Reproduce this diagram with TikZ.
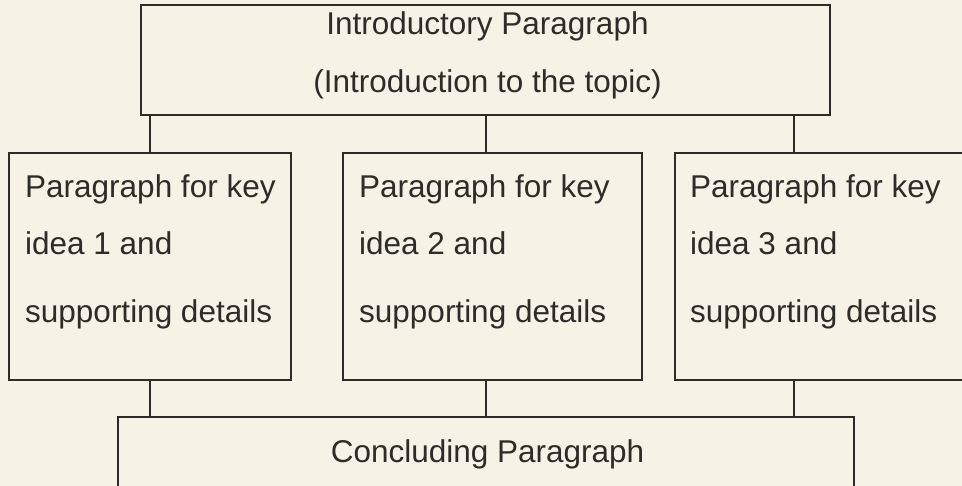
\documentclass[tikz,border=0pt]{standalone}
\usepackage{fontspec}
\setmainfont{Liberation Sans}
\definecolor{paper}{HTML}{F6F2E6}
\definecolor{ink}{HTML}{2E2C28}
\begin{document}
\begin{tikzpicture}[x=1pt,y=-1pt,
  box/.style={draw=ink,line width=1.3pt,inner sep=0pt,rectangle},
  txt/.style={text=ink,inner sep=0pt,font=\fontsize{31.5}{36}\selectfont},
  link/.style={draw=ink,line width=1.3pt}]
\fill[paper] (0,0) rectangle (962,486);
\useasboundingbox (0,0) rectangle (962,486);
% boxes
\node[box,minimum width=689pt,minimum height=110pt] (top) at (485.5,60) {};
\node[box,minimum width=282pt,minimum height=227pt] (b1) at (150,266.5) {};
\node[box,minimum width=299pt,minimum height=227pt] (b2) at (492.5,266.5) {};
\node[box,minimum width=291pt,minimum height=227pt] (b3) at (820.5,266.5) {};
\node[box,minimum width=736pt,minimum height=76pt] (bot) at (486,455) {};
% texts
\node[txt,anchor=base] (t1) at (487.5,35) {Introductory Paragraph};
\node[txt,anchor=base] (t2) at (487.5,93) {(Introduction to the topic)};
\node[txt,anchor=base west] (p1a) at (25,198) {Paragraph for key};
\node[txt,anchor=base west] (p1b) at (25,255) {idea 1 and};
\node[txt,anchor=base west] (p1c) at (25,323) {supporting details};
\node[txt,anchor=base west] (p2a) at (359,198) {Paragraph for key};
\node[txt,anchor=base west] (p2b) at (359,255) {idea 2 and};
\node[txt,anchor=base west] (p2c) at (359,323) {supporting details};
\node[txt,anchor=base west] (p3a) at (690,198) {Paragraph for key};
\node[txt,anchor=base west] (p3b) at (690,255) {idea 3 and};
\node[txt,anchor=base west] (p3c) at (690,323) {supporting details};
\node[txt,anchor=base] (tc) at (487.5,462) {Concluding Paragraph};
% connector columns
\coordinate (c1) at (150,0);
\coordinate (c2) at (486,0);
\coordinate (c3) at (794,0);
\draw[link] (top.south -| c1) -- (b1.north -| c1);
\draw[link] (top.south -| c2) -- (b2.north -| c2);
\draw[link] (top.south -| c3) -- (b3.north -| c3);
\draw[link] (b1.south -| c1) -- (bot.north -| c1);
\draw[link] (b2.south -| c2) -- (bot.north -| c2);
\draw[link] (b3.south -| c3) -- (bot.north -| c3);
\end{tikzpicture}
\end{document}
